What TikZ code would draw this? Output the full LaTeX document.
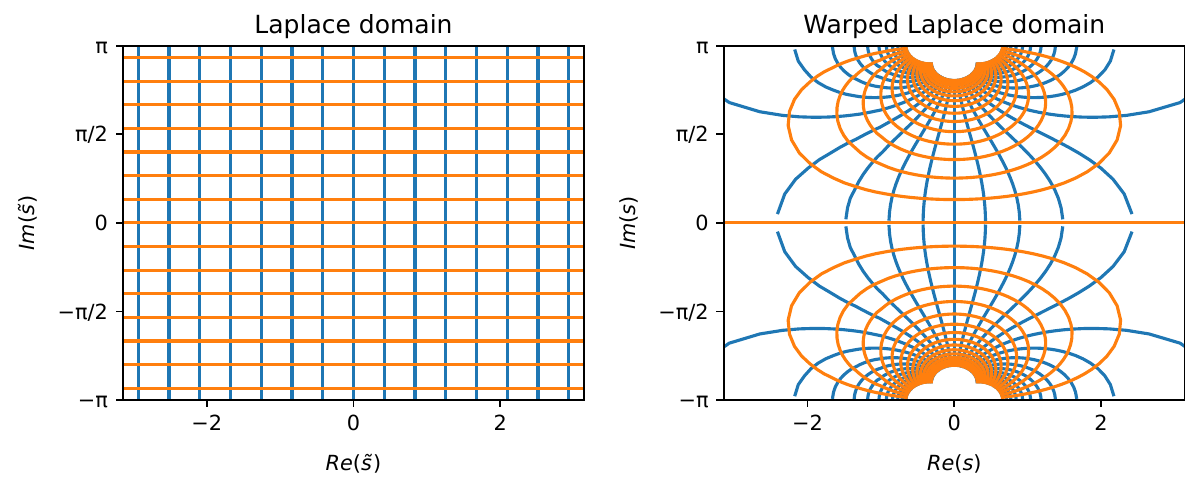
\documentclass[tikz,border=0pt]{standalone}
\usepackage{fontspec}
\setmainfont{DejaVu Sans}
\definecolor{GridBlue}{HTML}{1F77B4}
\definecolor{GridOrange}{HTML}{FF7F0E}

\begin{document}
\begin{tikzpicture}[
    x=0.48pt,y=-0.48pt,
    font=\fontsize{10}{12}\selectfont,
    reline/.style={draw=GridBlue,line width=1.5pt,line cap=rect,line join=round},
    imline/.style={draw=GridOrange,line width=1.5pt,line cap=rect,line join=round},
    axframe/.style={draw=black,line width=0.8pt},
    tickmark/.style={draw=black,line width=0.8pt},
    ticklabel/.style={inner sep=0pt},
    paneltitle/.style={font=\fontsize{12}{14.4}\selectfont,inner sep=0pt,anchor=base},
    axislabel/.style={inner sep=0pt,anchor=base}
  ]
  \useasboundingbox (0,0) rectangle (1185,479);

  % left panel, straight grid
  \begin{scope}[shift={(353.5,222.85)},xscale=73.4,yscale=-56.39]
    \clip (-pi,-pi) rectangle (pi,pi);
    \foreach \j in {-7,...,7}
      \draw[reline] ({\j*2*pi/15},-pi) -- ({\j*2*pi/15},pi);
    \foreach \k in {-7,...,7}
      \draw[imline] (-pi,{\k*2*pi/15}) -- (pi,{\k*2*pi/15});
  \end{scope}

  % right panel, same grid through s = 2 atanh(s~/2)
  \begin{scope}[shift={(954.3,222.85)},xscale=73.4,yscale=-56.39]
    \clip (-pi,-pi) rectangle (pi,pi);
    \foreach \j in {-15,...,15}{
      \pgfmathsetmacro\rea{\j*2*pi/15}
      \foreach \m in {1,-1}
        \draw[reline] plot[domain=0.05464:6.28319,samples=58,variable=\t]
          ({0.5*ln(((2+(\rea))*(2+(\rea))+(\t)*(\t))/((2-(\rea))*(2-(\rea))+(\t)*(\t)))},
           {\m*rad(atan2(4*(\t),4-(\rea)*(\rea)-(\t)*(\t)))});
    }
    \foreach \k in {1,...,15}{
      \pgfmathsetmacro\ima{\k*2*pi/15}
      \foreach \m in {1,-1}
        \draw[imline] plot[domain=-6.28319:6.28319,samples=116,variable=\t]
          ({0.5*ln(((2+(\t))*(2+(\t))+\ima*\ima)/((2-(\t))*(2-(\t))+\ima*\ima))},
           {\m*rad(atan2(4*\ima,4-(\t)*(\t)-\ima*\ima))});
    }
    \draw[imline] (-pi,0) -- (pi,0);
    \draw[imline] (-pi,pi) -- (-0.6596,pi) (0.6596,pi) -- (pi,pi);
  \end{scope}

  \draw[axframe] (122.9,45.7) rectangle (584.1,400);
  \draw[axframe] (723.7,45.7) rectangle (1184.9,400);

  % ticks
  \foreach \fx/\pn in {122.9/l,723.7/r}{
    \foreach \ty/\lab/\tn in {45.7/π/a,134.27/{π/2}/b,222.85/0/c,311.43/{−π/2}/d,400/{−π}/e}{
      \draw[tickmark] (\fx,\ty) -- ++(-7.29,0);
      \node[ticklabel,anchor=base east] (\pn y\tn) at ({\fx-14.58},{\ty+7.6}) {\lab};
    }
  }
  \foreach \cx/\pn in {353.5/l,954.3/r}{
    \foreach \dx/\lab/\tn in {-146.8/{−2}/a,0/0/b,146.8/2/c}{
      \draw[tickmark] ({\cx+\dx},400) -- ++(0,7.29);
      \node[ticklabel,anchor=base] (\pn x\tn) at ({\cx+\dx},430.5) {\lab};
    }
  }

  \node[paneltitle] (ltitle) at (353.5,33.2) {Laplace domain};
  \node[paneltitle] (rtitle) at (954.3,33.2) {Warped Laplace domain};

  \node[axislabel] (lxlabel) at (353.5,470) {\textit{Re}(\textit{s̃})};
  \node[axislabel,rotate=90] (lylabel) at (35,222.85) {\textit{Im}(\textit{s̃})};
  \node[axislabel] (rxlabel) at (954.3,470) {\textit{Re}(\textit{s})};
  \node[axislabel,rotate=90] (rylabel) at (635.8,222.85) {\textit{Im}(\textit{s})};
\end{tikzpicture}
\end{document}
